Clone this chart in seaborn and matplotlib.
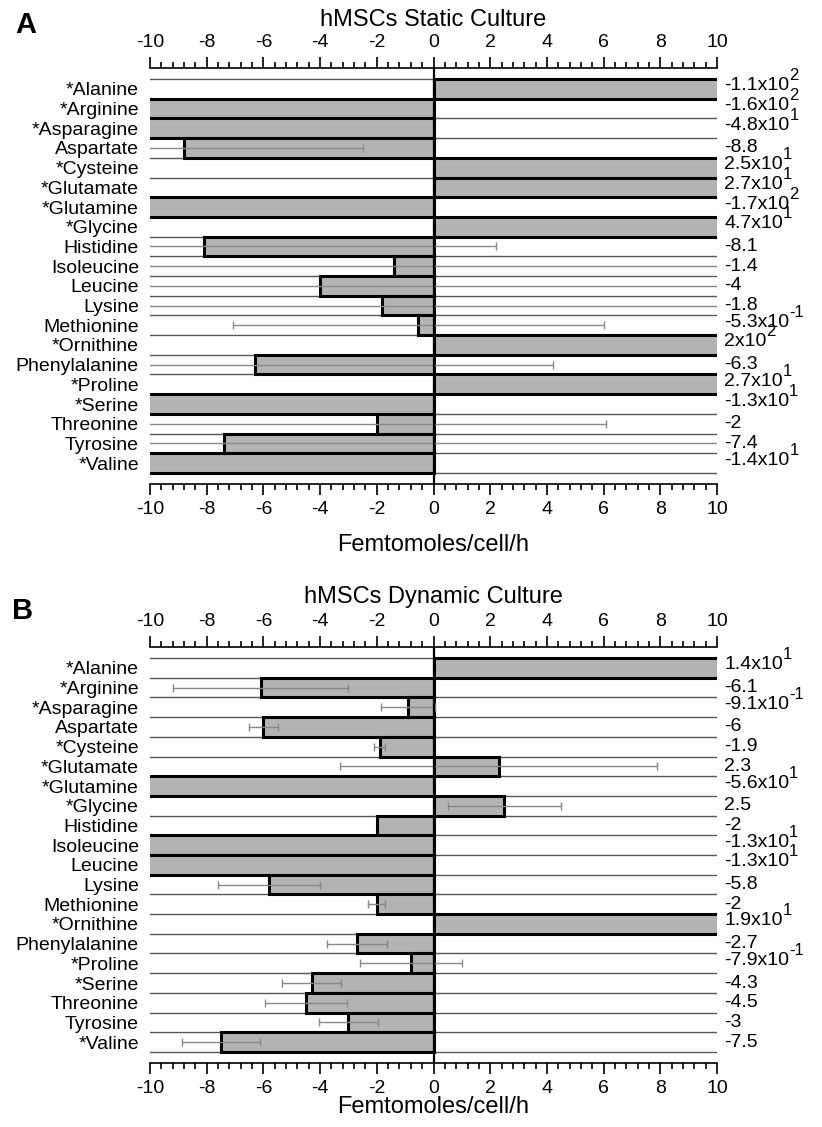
import numpy as np
import pandas as pd
import matplotlib
matplotlib.use('Agg')
import matplotlib.pyplot as plt
import seaborn as sns
from matplotlib.ticker import MultipleLocator

# amino acids, top to bottom
amino = ['*Alanine', '*Arginine', '*Asparagine', 'Aspartate', '*Cysteine',
         '*Glutamate', '*Glutamine', '*Glycine', 'Histidine', 'Isoleucine',
         'Leucine', 'Lysine', 'Methionine', '*Ornithine', 'Phenylalanine',
         '*Proline', '*Serine', 'Threonine', 'Tyrosine', '*Valine']

# static culture (femtomoles/cell/h)
static_vals = [110, -160, -48, -8.8, 25, 27, -170, 47, -8.1, -1.4,
               -4, -1.8, -0.53, 200, -6.3, 27, -13, -2, -7.4, -14]
static_err = [0, 0, 0, 6.3, 0, 0, 0, 0, 10.3, 12,
              15, 12, 6.55, 0, 10.5, 0, 0, 8.1, 18, 0]
static_base = ['-1.1x10', '-1.6x10', '-4.8x10', '-8.8', '2.5x10',
               '2.7x10', '-1.7x10', '4.7x10', '-8.1', '-1.4',
               '-4', '-1.8', '-5.3x10', '2x10', '-6.3',
               '2.7x10', '-1.3x10', '-2', '-7.4', '-1.4x10']
static_exp = ['2', '2', '1', '', '1', '1', '2', '1', '', '',
              '', '', '-1', '2', '', '1', '1', '', '', '1']

# dynamic culture
dyn_vals = [14, -6.1, -0.91, -6, -1.9, 2.3, -56, 2.5, -2, -13,
            -13, -5.8, -2, 19, -2.7, -0.79, -4.3, -4.5, -3, -7.5]
dyn_err = [0, 3.1, 0.95, 0.5, 0.2, 5.6, 0, 2.0, 0, 0,
           0, 1.8, 0.3, 0, 1.05, 1.8, 1.05, 1.45, 1.05, 1.37]
dyn_base = ['1.4x10', '-6.1', '-9.1x10', '-6', '-1.9',
            '2.3', '-5.6x10', '2.5', '-2', '-1.3x10',
            '-1.3x10', '-5.8', '-2', '1.9x10', '-2.7',
            '-7.9x10', '-4.3', '-4.5', '-3', '-7.5']
dyn_exp = ['1', '', '-1', '', '', '', '1', '', '', '1',
           '1', '', '', '1', '', '-1', '', '', '', '']

sns.set_style('white')
plt.rcParams['font.family'] = ['Liberation Sans', 'DejaVu Sans']
plt.rcParams['axes.unicode_minus'] = False
plt.rcParams['text.color'] = 'black'
plt.rcParams['axes.labelcolor'] = 'black'
plt.rcParams['xtick.color'] = 'black'
plt.rcParams['ytick.color'] = 'black'


def panel(ax, vals, err, base, exps, label_y):
    df = pd.DataFrame({'aa': amino, 'v': vals})
    sns.barplot(data=df, x='v', y='aa', orient='h', color='#b3b3b3', saturation=1,
                edgecolor='black', linewidth=2.2, width=1, ax=ax, zorder=2)
    n = len(amino)
    for k in range(n + 1):
        ax.axhline(k - 0.5, color='#555555', lw=1, zorder=1)
    ax.axvline(0, color='black', lw=1.6, zorder=4)
    pos = np.arange(n)
    e = np.array(err)
    m = e > 0
    ax.errorbar(np.array(vals)[m], pos[m], xerr=e[m], fmt='none', ecolor='#888888',
                elinewidth=1, capsize=3, capthick=1, zorder=3)
    for i, (b, x) in enumerate(zip(base, exps)):
        y = i - 0.15 if x else i
        t = ax.text(10.25, y, b, ha='left', va='center', fontsize=14, clip_on=False)
        if x:
            ax.annotate(x, xy=(1.0, 0.65), xycoords=t, ha='left', va='bottom',
                        fontsize=12, annotation_clip=False)
    ax.set_xlim(-10, 10)
    ax.set_ylim(n - 0.5 + 0.56, -0.5 - 0.56)
    ax.xaxis.set_major_locator(MultipleLocator(2))
    ax.xaxis.set_minor_locator(MultipleLocator(0.4))
    ax.tick_params(axis='x', which='both', top=True, bottom=True, labeltop=True,
                   labelbottom=True, direction='out', width=1.2, labelsize=14, pad=4)
    ax.tick_params(axis='x', which='major', length=8)
    ax.tick_params(axis='x', which='minor', length=4)
    ax.tick_params(axis='y', length=0, labelsize=14, pad=8)
    ax.set_ylabel('')
    ax.set_xlabel('Femtomoles/cell/h', fontsize=17)
    ax.xaxis.set_label_coords(0.5, label_y)
    ax.xaxis.label.set_verticalalignment('center')
    for s in ['left', 'right']:
        ax.spines[s].set_visible(False)
    for s in ['top', 'bottom']:
        ax.spines[s].set_linewidth(1.2)
        ax.spines[s].set_color('black')


fig = plt.figure(figsize=(8.22, 11.27), dpi=100)
W, H = 822, 1127
axA = fig.add_axes([150 / W, 1 - 484 / H, 567 / W, 416 / H])
axB = fig.add_axes([150 / W, 1 - 1063 / H, 567 / W, 416 / H])
panel(axA, static_vals, static_err, static_base, static_exp, -(545 - 484) / 416)
panel(axB, dyn_vals, dyn_err, dyn_base, dyn_exp, -(1107 - 1063) / 416)

fig.text(433 / W, 1 - 20 / H, 'hMSCs Static Culture', ha='center', va='center', fontsize=17)
fig.text(433 / W, 1 - 597 / H, 'hMSCs Dynamic Culture', ha='center', va='center', fontsize=17)
fig.text(15 / W, 1 - 25 / H, 'A', ha='left', va='center', fontsize=21, fontweight='bold')
fig.text(12 / W, 1 - 611 / H, 'B', ha='left', va='center', fontsize=21, fontweight='bold')

fig.savefig('out.png', dpi=100)
